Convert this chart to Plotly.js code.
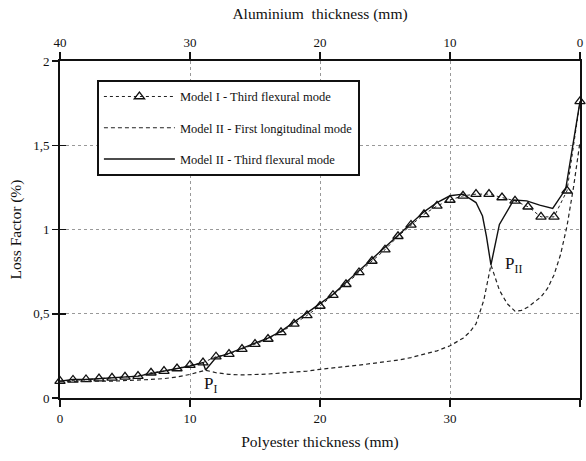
<!DOCTYPE html>
<html>
<head>
<meta charset="utf-8">
<script src="https://cdn.plot.ly/plotly-3.0.1.min.js"></script>
<style>html,body{margin:0;padding:0;background:#fff;}#chart{width:586px;height:461px;}</style>
</head>
<body>
<div id="chart"></div>
<script>
// Model I - Third flexural mode (triangles, dotted)
const model1X = [0,1,2,3,4,5,6,7,8,9,10,11,12,13,14,15,16,17,18,19,20,21,22,23,24,25,26,27,28,29,30,31,32,33,34,35,36,37,38,39,40];
const model1Y = [0.10,0.107,0.11,0.115,0.12,0.125,0.13,0.15,0.16,0.175,0.195,0.21,0.245,0.26,0.29,0.32,0.35,0.39,0.44,0.49,0.546,0.61,0.675,0.745,0.813,0.88,0.96,1.027,1.09,1.14,1.175,1.20,1.21,1.21,1.19,1.17,1.135,1.075,1.075,1.23,1.76];

// Model II - First longitudinal mode (dashed)
const longX = [0,2,4,6,7,8,9,10,10.5,11.2,12,13,14,15,16,17,18,19,20,21,22,23,24,25,26,27,28,29,30,31,31.5,32,32.6,33.15,33.8,34.4,35,35.5,36,37,37.5,38,38.5,39,39.5,40];
const longY = [0.095,0.10,0.10,0.105,0.11,0.115,0.125,0.14,0.15,0.165,0.15,0.14,0.137,0.138,0.142,0.148,0.153,0.16,0.17,0.177,0.185,0.195,0.205,0.213,0.225,0.24,0.26,0.28,0.31,0.355,0.39,0.44,0.58,0.79,0.64,0.56,0.515,0.52,0.54,0.60,0.65,0.73,0.85,1.02,1.25,1.52];

// Model II - Third flexural mode (solid)
const flexX = [0,1,2,3,4,5,6,7,8,9,10,11,11.2,12,13,14,15,16,17,18,19,20,21,22,23,24,25,26,27,28,29,30,31,32,32.5,32.8,33.15,33.8,34.9,35.9,36.9,37.9,38.9,40];
const flexY = [0.10,0.11,0.11,0.115,0.12,0.125,0.13,0.145,0.16,0.175,0.19,0.21,0.166,0.24,0.265,0.295,0.325,0.355,0.395,0.45,0.50,0.555,0.615,0.685,0.755,0.825,0.895,0.97,1.04,1.105,1.16,1.20,1.21,1.16,1.08,0.96,0.79,1.03,1.175,1.17,1.145,1.125,1.24,1.76];

const bottomTicks = [0,10,20,30,40];
const topTicks = [40,30,20,10,0];
const yTickVals = [0,0.5,1,1.5,2];
const yTickText = ["0","0,5","1","1,5","2"];

const serif = "Liberation Serif";

const traces = [
  {x: model1X, y: model1Y, type: 'scatter', mode: 'lines+markers', name: 'Model I - Third flexural mode',
   legendgroup: 'a', cliponaxis: false,
   line: {color: '#222', width: 1, dash: 'dot'},
   marker: {symbol: 'triangle-up-open', size: 9, color: '#111', line: {width: 1.3, color: '#111'}}},
  {x: longX, y: longY, type: 'scatter', mode: 'lines', name: 'Model II - First longitudinal mode',
   legendgroup: 'b', line: {color: '#222', width: 1.2, dash: '4px,3px'}},
  {x: flexX, y: flexY, type: 'scatter', mode: 'lines', name: 'Model II - Third flexural mode',
   legendgroup: 'c', line: {color: '#111', width: 1.4}},
  {x: [null], y: [null], xaxis: 'x2', yaxis: 'y', showlegend: false, hoverinfo: 'skip', type: 'scatter', mode: 'lines'},
  {x: [null], y: [null], xaxis: 'x', yaxis: 'y2', showlegend: false, hoverinfo: 'skip', type: 'scatter', mode: 'lines'}
];

const layout = {
  width: 586, height: 461,
  margin: {l: 60, r: 6, t: 61, b: 63},
  paper_bgcolor: '#fff', plot_bgcolor: '#fff',
  font: {family: serif, size: 13, color: '#111'},
  showlegend: true,
  legend: {x: 0.071, y: 0.944, xanchor: 'left', yanchor: 'top',
    bordercolor: '#111', borderwidth: 2, bgcolor: '#fff',
    font: {family: serif, size: 12.5, color: '#111'},
    itemwidth: 71, tracegroupgap: 12},
  xaxis: {range: [0, 40], tickvals: bottomTicks, ticks: 'outside', ticklen: 7, tickwidth: 1.5, tickcolor: '#111',
    showline: true, linewidth: 2, linecolor: '#111', mirror: true, zeroline: false,
    showgrid: true, gridcolor: '#999', griddash: 'dot', gridwidth: 1,
    tickfont: {family: serif, size: 13},
    title: {text: 'Polyester thickness (mm)', font: {family: serif, size: 15.5}, standoff: 12}},
  xaxis2: {range: [40, 0], overlaying: 'x', side: 'top', anchor: 'y', tickvals: topTicks, ticks: 'outside', ticklen: 7, tickwidth: 1.5, tickcolor: '#111',
    showline: true, linewidth: 2, linecolor: '#111', zeroline: false, showgrid: false,
    tickfont: {family: serif, size: 13},
    title: {text: 'Aluminium&nbsp; thickness (mm)', font: {family: serif, size: 15.5}, standoff: 11}},
  yaxis: {range: [0, 2], tickvals: yTickVals, ticktext: yTickText, ticks: 'outside', ticklen: 6, tickwidth: 1.5, tickcolor: '#111',
    showline: true, linewidth: 2, linecolor: '#111', mirror: true, zeroline: false,
    showgrid: true, gridcolor: '#999', griddash: 'dot', gridwidth: 1,
    tickfont: {family: serif, size: 13},
    title: {text: 'Loss Factor (%)', font: {family: serif, size: 15.5}, standoff: 8}},
  yaxis2: {range: [0, 2], overlaying: 'y', side: 'left', anchor: 'x', tickvals: yTickVals, ticks: 'inside', ticklen: 6, tickwidth: 1.5, tickcolor: '#111',
    showticklabels: false, showline: false, showgrid: false, zeroline: false},
  annotations: [
    {x: 11.6, y: 0.075, xref: 'x', yref: 'y', text: 'P<sub>I</sub>', showarrow: false, font: {family: serif, size: 17, color: '#111'}},
    {x: 34.9, y: 0.79, xref: 'x', yref: 'y', text: 'P<sub>II</sub>', showarrow: false, font: {family: serif, size: 17, color: '#111'}}
  ]
};

Plotly.newPlot('chart', traces, layout, {displayModeBar: false, staticPlot: true});
</script>
</body>
</html>
